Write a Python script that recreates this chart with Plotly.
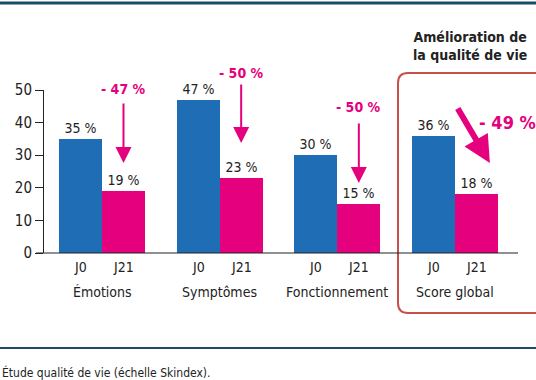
import plotly.graph_objects as go

categories = ["Émotions", "Symptômes", "Fonctionnement", "Score global"]
periods = ["J0", "J21"]
j0_values = [35, 47, 30, 36]
j21_values = [19, 23, 15, 18]
reductions = ["- 47 %", "- 50 %", "- 50 %", "- 49 %"]
y_ticks = [0, 10, 20, 30, 40, 50]

BLUE = "#1f6db5"
PINK = "#e5007d"
RED = "#c9504a"
TEAL = "#1d4d66"
FONT = "DejaVu Sans Condensed, Roboto, sans-serif"

W, H = 536, 380
L, R, T, B = 44, 18, 90, 127
pw, ph = W - L - R, H - T - B

def px(x):
    return (x - L) / pw

def py(y):
    return (H - B - y) / ph

def dv(y):
    # pixel y -> data value
    return (H - B - y) / ph * 50

bw = 0.365
idx = list(range(len(categories)))

fig = go.Figure()
fig.add_bar(x=idx, y=j0_values, width=bw, offset=-bw, marker=dict(color=BLUE, line_width=0),
            text=[f"{v} %" for v in j0_values], textposition="outside",
            textfont=dict(size=14, color="#222"), cliponaxis=False, name="J0")
fig.add_bar(x=idx, y=j21_values, width=bw, offset=0, marker=dict(color=PINK, line_width=0),
            text=[f"{v} %" for v in j21_values], textposition="outside",
            textfont=dict(size=14, color="#222"), cliponaxis=False, name="J21")

ann = []
for i, c in enumerate(categories):
    for k, p in enumerate(periods):
        ann.append(dict(x=i - bw / 2 + k * bw, y=py(267), xref="x", yref="paper", text=p,
                        xanchor="center", yanchor="middle",
                        showarrow=False, font=dict(size=14, color="#222")))
    ann.append(dict(x=i, y=py(292), xref="x", yref="paper", text=c,
                    xanchor="center", yanchor="middle",
                    showarrow=False, font=dict(size=14, color="#222")))

# vertical arrows (first three): (tail px, head px, label px)
arrow_specs = [(102, 163, 89), (83, 143, 73), (122, 183, 107)]
for i, (tail, head, lab) in enumerate(arrow_specs):
    xa = i + bw / 2
    ann.append(dict(x=xa, y=dv(head), ax=0, ay=-(head - tail), xref="x", yref="y",
                    axref="pixel", ayref="pixel",
                    showarrow=True, arrowhead=2, arrowsize=1.6, arrowwidth=2, arrowcolor=PINK, text=""))
    ann.append(dict(x=xa, y=py(lab), xref="x", yref="paper", text=f"<b>{reductions[i]}</b>",
                    xanchor="center", yanchor="middle",
                    showarrow=False, font=dict(size=14, color=PINK)))
# diagonal arrow score global
ann.append(dict(x=3.296, y=dv(163), ax=-33, ay=-56, xref="x", yref="y", axref="pixel", ayref="pixel",
                showarrow=True, arrowhead=2, arrowsize=0.9, arrowwidth=6, arrowcolor=PINK, text=""))
ann.append(dict(x=px(507), y=py(122), xref="paper", yref="paper", text=f"<b>{reductions[3]}</b>",
                xanchor="center", yanchor="middle",
                showarrow=False, font=dict(size=18, color=PINK)))

ann.append(dict(x=px(470), y=py(46), xref="paper", yref="paper",
                text="<b>Amélioration de<br>la qualité de vie</b>", showarrow=False,
                xanchor="center", yanchor="middle",
                font=dict(size=14, color="#222"), align="center"))
ann.append(dict(x=px(0), y=py(372), xref="paper", yref="paper", xanchor="left", yanchor="middle",
                text="Étude qualité de vie (échelle Skindex).", showarrow=False,
                font=dict(size=12, color="#222")))

# rounded rect path
x0, x1, y0, y1 = px(398), px(560), py(313), py(73)
rx, ry = 10 / pw, 10 / ph
path = (f"M {x0+rx},{y1} L {x1},{y1} L {x1},{y0} L {x0+rx},{y0} "
        f"Q {x0},{y0} {x0},{y0+ry} L {x0},{y1-ry} Q {x0},{y1} {x0+rx},{y1} Z")

shapes = [
    dict(type="path", path=path, xref="paper", yref="paper", line=dict(color=RED, width=2)),
    dict(type="line", x0=px(0), x1=px(536), y0=py(3), y1=py(3), xref="paper", yref="paper",
         line=dict(color=TEAL, width=3)),
    dict(type="line", x0=px(0), x1=px(536), y0=py(348), y1=py(348), xref="paper", yref="paper",
         line=dict(color=TEAL, width=2)),
    dict(type="line", x0=px(36), x1=px(518), y0=0, y1=0, xref="paper", yref="paper",
         line=dict(color="#222", width=1)),
]

fig.update_layout(
    width=W, height=H, margin=dict(l=L, r=R, t=T, b=B, autoexpand=False),
    paper_bgcolor="white", plot_bgcolor="white", showlegend=False,
    font=dict(family=FONT, color="#222"),
    xaxis=dict(range=[-0.493, 3.535], showticklabels=False, showgrid=False, zeroline=False,
               showline=False, ticks=""),
    yaxis=dict(range=[0, 50], tickvals=y_ticks, showgrid=False, zeroline=False, showline=True,
               linecolor="#222", linewidth=1, ticks="outside", ticklen=8, tickcolor="#222",
               tickfont=dict(size=15, color="#222")),
    annotations=ann, shapes=shapes, bargap=0,
)

fig.write_html("out.html", config={"displayModeBar": False},
               post_script="document.body.style.margin='0';document.body.style.overflow='hidden';")
